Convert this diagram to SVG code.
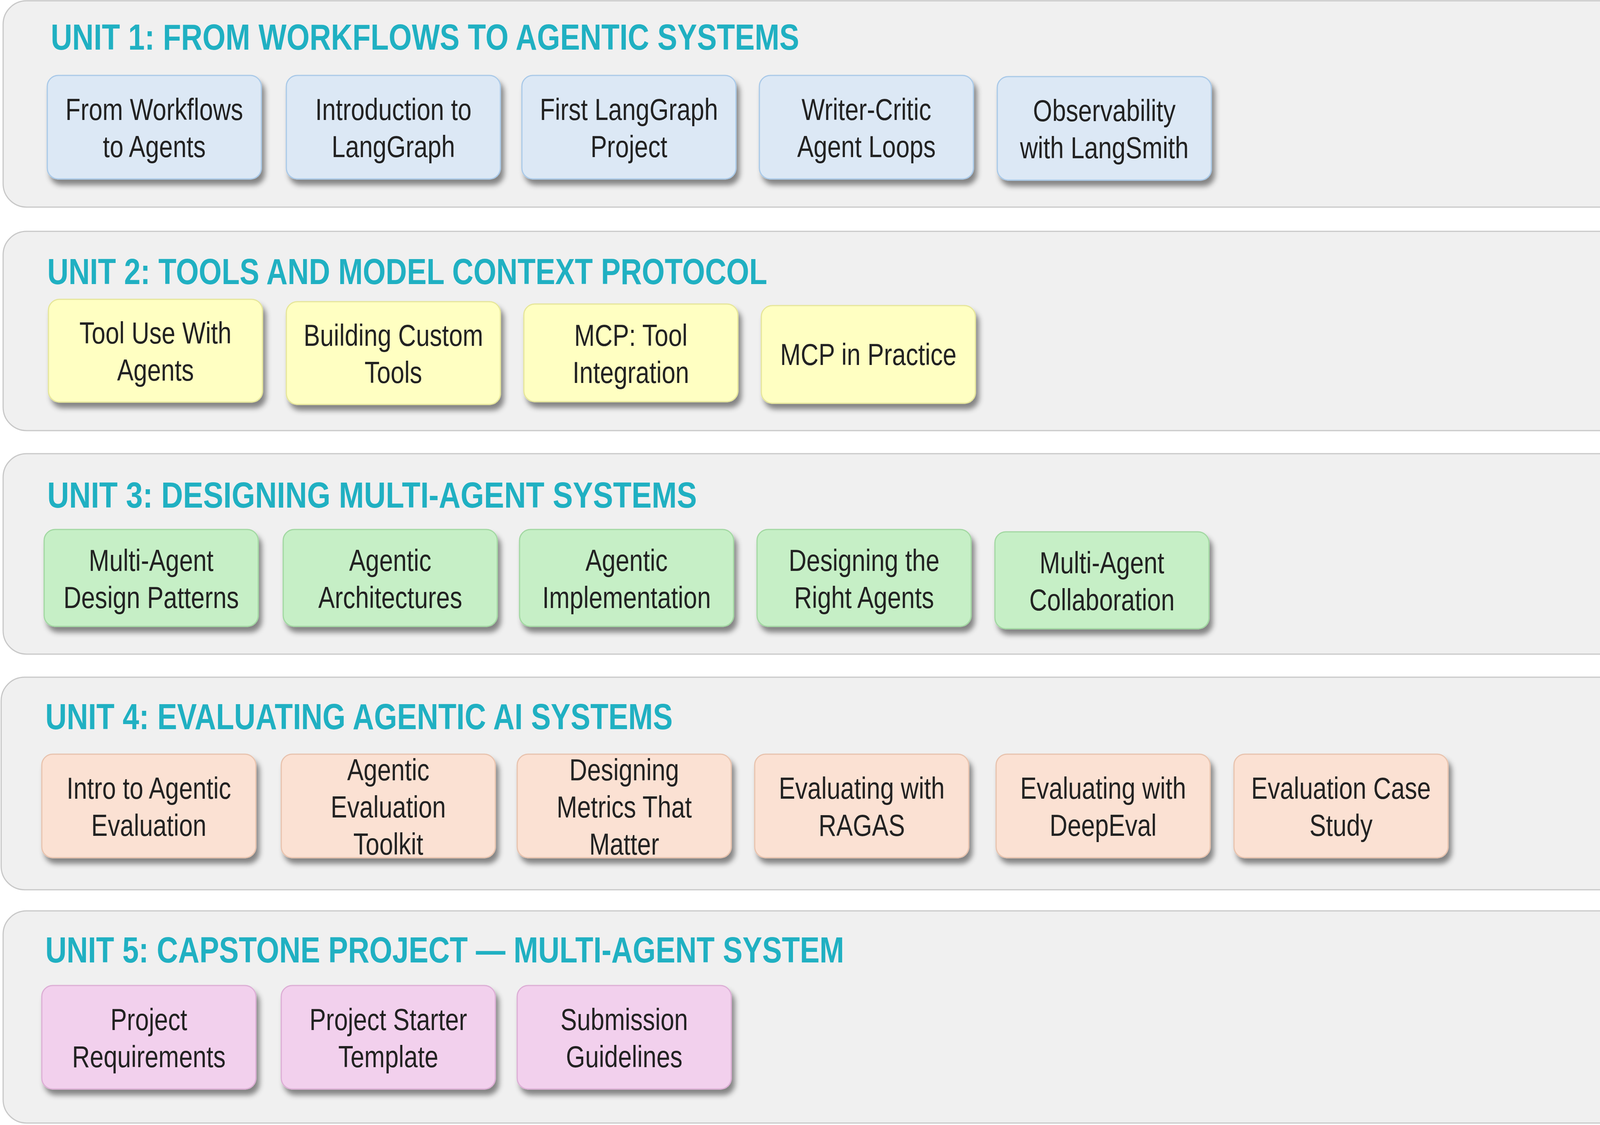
<svg xmlns="http://www.w3.org/2000/svg" width="4419" height="2879" viewBox="0 0 4419 2879">
<style>
.panel{fill:#f0f0f0;stroke:#c8c8c8;stroke-width:3}
.title{font-family:"Liberation Sans Narrow","Liberation Sans",Arial,sans-serif;font-weight:bold;font-size:92px;fill:#20b0c2}
.box{stroke-width:3;filter:url(#sh)}
.u1{fill:#dce8f5;stroke:#a9c9e8}
.u2{fill:#ffffc2;stroke:#e6e69a}
.u3{fill:#c6efc6;stroke:#a2d8a2}
.u4{fill:#fbe1d3;stroke:#e8c3ae}
.u5{fill:#f2d0ed;stroke:#dcaed5}
.lbl{font-family:"Liberation Sans",Arial,sans-serif;font-size:77px;fill:#222;text-anchor:middle}
</style>
<defs>
<filter id="sh" x="-10%" y="-10%" width="130%" height="140%">
<feDropShadow dx="8" dy="14" stdDeviation="7" flood-color="#000" flood-opacity="0.45"/>
</filter>
</defs>
<g id="panels">
<rect class="panel" x="8" y="2" width="4405" height="528" rx="60"/>
<rect class="panel" x="8" y="592" width="4397" height="510" rx="60"/>
<rect class="panel" x="8" y="1161" width="4397" height="513" rx="60"/>
<rect class="panel" x="3" y="1733" width="4396" height="544" rx="60"/>
<rect class="panel" x="8" y="2331" width="4397" height="543" rx="60"/>
</g>
<g id="titles">
<text class="title" x="130" y="127" textLength="1916" lengthAdjust="spacingAndGlyphs">UNIT 1: FROM WORKFLOWS TO AGENTIC SYSTEMS</text>
<text class="title" x="121" y="727" textLength="1843" lengthAdjust="spacingAndGlyphs">UNIT 2: TOOLS AND MODEL CONTEXT PROTOCOL</text>
<text class="title" x="121" y="1299" textLength="1663" lengthAdjust="spacingAndGlyphs">UNIT 3: DESIGNING MULTI-AGENT SYSTEMS</text>
<text class="title" x="116" y="1866" textLength="1606" lengthAdjust="spacingAndGlyphs">UNIT 4: EVALUATING AGENTIC AI SYSTEMS</text>
<text class="title" x="116" y="2463" textLength="2045" lengthAdjust="spacingAndGlyphs">UNIT 5: CAPSTONE PROJECT — MULTI-AGENT SYSTEM</text>
</g>
<g id="connectors"/>
<!-- Unit 1 -->
<g id="n1_1"><rect class="box u1" x="121" y="193" width="548" height="265" rx="28"/><g transform="translate(395,325) scale(0.82,1)"><text class="lbl" y="-18">From Workflows</text><text class="lbl" y="77">to Agents</text></g></g>
<g id="n1_2"><rect class="box u1" x="733" y="193" width="548" height="265" rx="28"/><g transform="translate(1007,325) scale(0.82,1)"><text class="lbl" y="-18">Introduction to</text><text class="lbl" y="77">LangGraph</text></g></g>
<g id="n1_3"><rect class="box u1" x="1336" y="193" width="548" height="265" rx="28"/><g transform="translate(1610,325) scale(0.82,1)"><text class="lbl" y="-18">First LangGraph</text><text class="lbl" y="77">Project</text></g></g>
<g id="n1_4"><rect class="box u1" x="1944" y="193" width="548" height="265" rx="28"/><g transform="translate(2218,325) scale(0.82,1)"><text class="lbl" y="-18">Writer-Critic</text><text class="lbl" y="77">Agent Loops</text></g></g>
<g id="n1_5"><rect class="box u1" x="2553" y="196" width="548" height="265" rx="28"/><g transform="translate(2827,328) scale(0.82,1)"><text class="lbl" y="-18">Observability</text><text class="lbl" y="77">with LangSmith</text></g></g>
<!-- Unit 2 -->
<g id="n2_1"><rect class="box u2" x="124" y="766" width="548" height="263" rx="28"/><g transform="translate(398,897) scale(0.82,1)"><text class="lbl" y="-18">Tool Use With</text><text class="lbl" y="77">Agents</text></g></g>
<g id="n2_2"><rect class="box u2" x="733" y="772" width="548" height="263" rx="28"/><g transform="translate(1007,903) scale(0.82,1)"><text class="lbl" y="-18">Building Custom</text><text class="lbl" y="77">Tools</text></g></g>
<g id="n2_3"><rect class="box u2" x="1341" y="778" width="548" height="250" rx="28"/><g transform="translate(1615,903) scale(0.82,1)"><text class="lbl" y="-18">MCP: Tool</text><text class="lbl" y="77">Integration</text></g></g>
<g id="n2_4"><rect class="box u2" x="1949" y="782" width="548" height="250" rx="28"/><g transform="translate(2223,907) scale(0.82,1)"><text class="lbl" y="27">MCP in Practice</text></g></g>
<!-- Unit 3 -->
<g id="n3_1"><rect class="box u3" x="113" y="1355" width="548" height="248" rx="28"/><g transform="translate(387,1479) scale(0.82,1)"><text class="lbl" y="-18">Multi-Agent</text><text class="lbl" y="77">Design Patterns</text></g></g>
<g id="n3_2"><rect class="box u3" x="725" y="1355" width="548" height="248" rx="28"/><g transform="translate(999,1479) scale(0.82,1)"><text class="lbl" y="-18">Agentic</text><text class="lbl" y="77">Architectures</text></g></g>
<g id="n3_3"><rect class="box u3" x="1330" y="1355" width="548" height="248" rx="28"/><g transform="translate(1604,1479) scale(0.82,1)"><text class="lbl" y="-18">Agentic</text><text class="lbl" y="77">Implementation</text></g></g>
<g id="n3_4"><rect class="box u3" x="1938" y="1355" width="548" height="248" rx="28"/><g transform="translate(2212,1479) scale(0.82,1)"><text class="lbl" y="-18">Designing the</text><text class="lbl" y="77">Right Agents</text></g></g>
<g id="n3_5"><rect class="box u3" x="2547" y="1361" width="548" height="248" rx="28"/><g transform="translate(2821,1485) scale(0.82,1)"><text class="lbl" y="-18">Multi-Agent</text><text class="lbl" y="77">Collaboration</text></g></g>
<!-- Unit 4 -->
<g id="n4_1"><rect class="box u4" x="107" y="1930" width="548" height="265" rx="28"/><g transform="translate(381,2062) scale(0.82,1)"><text class="lbl" y="-18">Intro to Agentic</text><text class="lbl" y="77">Evaluation</text></g></g>
<g id="n4_2"><rect class="box u4" x="720" y="1930" width="548" height="265" rx="28"/><g transform="translate(994,2062) scale(0.82,1)"><text class="lbl" y="-65">Agentic</text><text class="lbl" y="30">Evaluation</text><text class="lbl" y="125">Toolkit</text></g></g>
<g id="n4_3"><rect class="box u4" x="1324" y="1930" width="548" height="265" rx="28"/><g transform="translate(1598,2062) scale(0.82,1)"><text class="lbl" y="-65">Designing</text><text class="lbl" y="30">Metrics That</text><text class="lbl" y="125">Matter</text></g></g>
<g id="n4_4"><rect class="box u4" x="1932" y="1930" width="548" height="265" rx="28"/><g transform="translate(2206,2062) scale(0.82,1)"><text class="lbl" y="-18">Evaluating with</text><text class="lbl" y="77">RAGAS</text></g></g>
<g id="n4_5"><rect class="box u4" x="2550" y="1930" width="548" height="265" rx="28"/><g transform="translate(2824,2062) scale(0.82,1)"><text class="lbl" y="-18">Evaluating with</text><text class="lbl" y="77">DeepEval</text></g></g>
<g id="n4_6"><rect class="box u4" x="3159" y="1930" width="548" height="265" rx="28"/><g transform="translate(3433,2062) scale(0.82,1)"><text class="lbl" y="-18">Evaluation Case</text><text class="lbl" y="77">Study</text></g></g>
<!-- Unit 5 -->
<g id="n5_1"><rect class="box u5" x="107" y="2522" width="548" height="265" rx="28"/><g transform="translate(381,2654) scale(0.82,1)"><text class="lbl" y="-18">Project</text><text class="lbl" y="77">Requirements</text></g></g>
<g id="n5_2"><rect class="box u5" x="720" y="2522" width="548" height="265" rx="28"/><g transform="translate(994,2654) scale(0.82,1)"><text class="lbl" y="-18">Project Starter</text><text class="lbl" y="77">Template</text></g></g>
<g id="n5_3"><rect class="box u5" x="1324" y="2522" width="548" height="265" rx="28"/><g transform="translate(1598,2654) scale(0.82,1)"><text class="lbl" y="-18">Submission</text><text class="lbl" y="77">Guidelines</text></g></g>
</svg>
